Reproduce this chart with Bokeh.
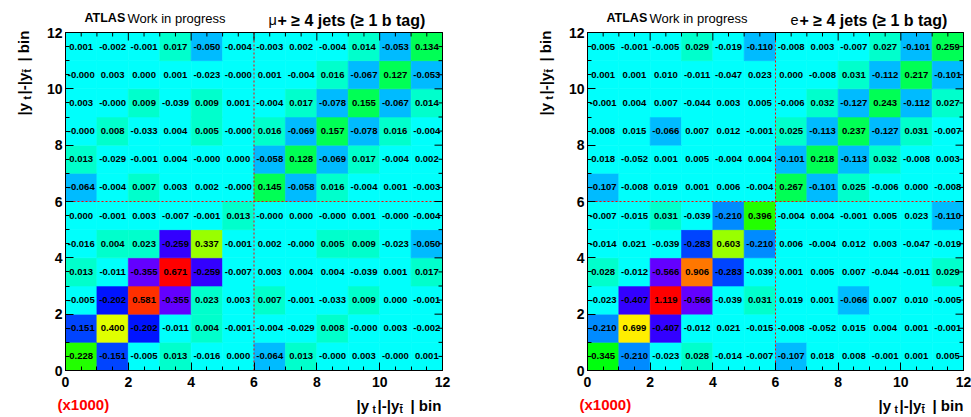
import math
import colorsys
from bokeh.plotting import figure
from bokeh.models import (ColumnDataSource, LinearColorMapper, FixedTicker,
                          Label, Range1d)
from bokeh.layouts import row
from bokeh.embed import file_html
from bokeh.resources import INLINE
from bokeh.core.properties import value

# ---------------- data ----------------
n_bins = 12
split_bin = 6
tick_values = [0, 2, 4, 6, 8, 10, 12]
minor_tick_values = [i * 0.5 for i in range(25)]

# rows listed from bottom (row 0) to top (row 11), columns left to right
mu_z = [
    [0.228, -0.151, -0.005, 0.013, -0.016, 0.000, -0.064, 0.013, -0.000, 0.003, -0.000, 0.001],
    [-0.151, 0.400, -0.202, -0.011, 0.0044, -0.001, -0.004, -0.029, 0.008, -0.000, 0.003, -0.002],
    [-0.005, -0.202, 0.581, -0.355, 0.023, 0.003, 0.007, -0.001, -0.033, 0.009, 0.000, -0.001],
    [0.013, -0.011, -0.355, 0.671, -0.259, -0.007, 0.003, 0.004, 0.004, -0.039, 0.001, 0.017],
    [-0.016, 0.0044, 0.023, -0.259, 0.337, -0.001, 0.002, -0.000, 0.005, 0.009, -0.023, -0.050],
    [0.000, -0.001, 0.003, -0.007, -0.001, 0.013, -0.000, 0.000, -0.000, 0.001, -0.000, -0.004],
    [-0.064, -0.004, 0.007, 0.003, 0.002, -0.000, 0.145, -0.058, 0.016, -0.004, 0.001, -0.003],
    [0.013, -0.029, -0.001, 0.004, -0.000, 0.000, -0.058, 0.128, -0.069, 0.017, -0.004, 0.002],
    [-0.000, 0.008, -0.033, 0.004, 0.005, -0.000, 0.016, -0.069, 0.157, -0.078, 0.016, -0.004],
    [0.003, -0.000, 0.009, -0.039, 0.009, 0.001, -0.004, 0.017, -0.078, 0.155, -0.067, 0.014],
    [-0.000, 0.003, 0.000, 0.001, -0.023, -0.000, 0.001, -0.004, 0.016, -0.067, 0.127, -0.053],
    [0.001, -0.002, -0.001, 0.017, -0.050, -0.004, -0.003, 0.002, -0.004, 0.014, -0.053, 0.134],
]

e_z = [
    [0.345, -0.210, -0.023, 0.028, -0.014, -0.007, -0.107, 0.018, 0.008, -0.001, 0.001, 0.005],
    [-0.210, 0.699, -0.407, -0.012, 0.021, -0.015, -0.008, -0.052, 0.015, 0.004, 0.001, -0.001],
    [-0.023, -0.407, 1.119, -0.566, -0.039, 0.031, 0.019, 0.001, -0.066, 0.007, 0.010, -0.005],
    [0.028, -0.012, -0.566, 0.906, -0.283, -0.039, 0.001, 0.005, 0.007, -0.044, -0.011, 0.029],
    [-0.014, 0.021, -0.039, -0.283, 0.603, -0.210, 0.006, -0.004, 0.012, 0.003, -0.047, -0.019],
    [-0.007, -0.015, 0.031, -0.039, -0.210, 0.396, -0.004, 0.004, -0.001, 0.005, 0.023, -0.110],
    [-0.107, -0.008, 0.019, 0.001, 0.006, -0.004, 0.267, -0.101, 0.025, -0.006, 0.000, -0.008],
    [0.018, -0.052, 0.001, 0.005, -0.004, 0.004, -0.101, 0.218, -0.113, 0.032, -0.008, 0.003],
    [0.008, 0.015, -0.066, 0.007, 0.012, -0.001, 0.025, -0.113, 0.237, -0.127, 0.031, -0.007],
    [-0.001, 0.004, 0.007, -0.044, 0.003, 0.005, -0.006, 0.032, -0.127, 0.243, -0.112, 0.027],
    [0.001, 0.001, 0.010, -0.011, -0.047, 0.023, 0.000, -0.008, 0.031, -0.112, 0.217, -0.101],
    [0.005, -0.001, -0.005, 0.029, -0.019, -0.110, -0.008, 0.003, -0.007, 0.027, -0.101, 0.259],
]

mu_title = "\u03bc"
e_title = "e"
selection_text = "+ \u2265 4 jets (\u2265 1 b tag)"
atlas_text = "ATLAS"
wip_text = "Work in progress"
scale_text = "(x1000)"

# ---------------- style ----------------
FONT = "Liberation Sans"
N_CONT = 20
N_PRETTY = 50


def root_palette():
    cols = []
    for k in range(N_CONT):
        idx = int((k + 0.99) * N_PRETTY / N_CONT)
        hue = 280.0 - (idx + 1) * (280.0 / N_PRETTY)
        r, g, b = colorsys.hls_to_rgb(hue / 360.0, 0.5, 1.0)
        cols.append("#%02x%02x%02x" % (round(r * 255), round(g * 255), round(b * 255)))
    return cols


PALETTE = root_palette()

FIG_H = 417
FRAME_TOP = 32            # canvas px above the histogram box
FRAME_BOTTOM_BORDER = 47  # canvas px below the histogram box
FRAME_H = FIG_H - FRAME_TOP - FRAME_BOTTOM_BORDER
MAJOR_LEN = 8
MINOR_LEN = 4


def style_axis(ax):
    ax.ticker = FixedTicker(ticks=tick_values, minor_ticks=minor_tick_values)
    ax.bounds = (0, n_bins)
    ax.fixed_location = 0
    ax.major_tick_in = MAJOR_LEN
    ax.major_tick_out = 0
    ax.minor_tick_in = MINOR_LEN
    ax.minor_tick_out = 0
    ax.axis_line_color = "black"
    ax.major_tick_line_color = "black"
    ax.minor_tick_line_color = "black"
    ax.major_label_text_font = FONT
    ax.major_label_text_font_style = "bold"
    ax.major_label_text_font_size = "14px"
    ax.major_label_text_color = "black"


def make_panel(z, lep, width, bl, br):
    frame_w = width - bl - br
    sx = frame_w / n_bins
    sy = FRAME_H / n_bins
    # the plotting frame fills the whole canvas; the histogram box sits inside it
    xr = Range1d(-bl / sx, (width - bl) / sx)
    yr = Range1d(-FRAME_BOTTOM_BORDER / sy, (FIG_H - FRAME_BOTTOM_BORDER) / sy)

    p = figure(width=width, height=FIG_H, x_range=xr, y_range=yr,
               output_backend="svg", toolbar_location=None,
               min_border_left=0, min_border_right=0,
               min_border_top=0, min_border_bottom=0)
    p.xgrid.visible = False
    p.ygrid.visible = False
    p.outline_line_color = None
    p.background_fill_color = "white"
    p.border_fill_color = "white"

    xs, ys, vals, labels = [], [], [], []
    for r in range(n_bins):
        for c in range(n_bins):
            v = z[r][c]
            xs.append(c + 0.5)
            ys.append(r + 0.5)
            vals.append(v)
            labels.append(f"{v:.3f}")
    src = ColumnDataSource(dict(x=xs, y=ys, z=vals, label=labels))
    mapper = LinearColorMapper(palette=PALETTE, low=min(vals), high=max(vals))

    p.rect(x="x", y="y", width=1, height=1, source=src,
           fill_color={"field": "z", "transform": mapper},
           line_color={"field": "z", "transform": mapper}, line_width=0.6)
    p.text(x="x", y="y", text="label", source=src, text_font=value(FONT),
           text_font_style="bold", text_font_size="9.5px", text_align="center",
           text_baseline="middle", text_color="black")

    # dashed split lines
    p.segment(x0=[split_bin, 0], y0=[0, split_bin], x1=[split_bin, n_bins], y1=[n_bins, split_bin],
              line_color="#ff0000", line_dash="2 2", line_width=1)

    # histogram box
    p.rect(x=[n_bins / 2], y=[n_bins / 2], width=n_bins, height=n_bins,
           fill_color=None, line_color="black", line_width=1)

    style_axis(p.xaxis[0])
    style_axis(p.yaxis[0])
    p.xaxis[0].major_label_standoff = 6
    p.yaxis[0].major_label_standoff = 3

    # ticks on the top and right box edges (mirrors of the bottom/left axes)
    lens = [MAJOR_LEN if t in tick_values else MINOR_LEN for t in minor_tick_values]
    top_y = [n_bins] * len(minor_tick_values)
    p.segment(x0=minor_tick_values, y0=top_y, x1=minor_tick_values,
              y1=[n_bins - L / sy for L in lens], line_color="black", line_width=1)
    right_x = [n_bins] * len(minor_tick_values)
    p.segment(x0=right_x, y0=minor_tick_values, x1=[n_bins - L / sx for L in lens],
              y1=minor_tick_values, line_color="black", line_width=1)

    # text around the box (rx px from box left, ry px from box top)
    def lab(rx, ry, text, size, bold=True, color="black", angle=0.0):
        p.add_layout(Label(x=rx / sx, y=(FRAME_H - ry) / sy, text=text, text_font=FONT,
                           text_font_size=f"{size}px",
                           text_font_style="bold" if bold else "normal",
                           text_color=color, angle=angle, text_align="left",
                           text_baseline="alphabetic"))

    # title
    lab(19, -14.5, atlas_text, 12.5, True)
    lab(62, -14.5, wip_text, 13, False)
    lab(203, -12.5, lep, 14.5, False)
    lab(212, -12.5, selection_text, 16, True)
    # (x1000)
    lab(-8, 372, scale_text, 15, True, color="#ff0000")
    # x axis title
    base = 373
    lab(291, base, "|y", 15, True)
    lab(307, base + 4, "t", 10, True)
    lab(312, base, "|-|y", 15, True)
    lab(334, base + 4, "t\u0304", 10, True)
    lab(345, base, "| bin", 15, True)
    # y axis title (rotated)
    A = math.pi / 2
    bx = -42
    lab(bx, 83, "|y", 15, True, angle=A)
    lab(bx + 4, 67, "t", 10, True, angle=A)
    lab(bx, 62, "|-|y", 15, True, angle=A)
    lab(bx + 4, 40, "t\u0304", 10, True, angle=A)
    lab(bx, 29, "| bin", 15, True, angle=A)
    return p


p1 = make_panel(mu_z, mu_title, 490, 65, 48)
p2 = make_panel(e_z, e_title, 481, 97, 8)
layout = row(p1, p2)

open("out.html", "w").write(file_html(layout, INLINE))
